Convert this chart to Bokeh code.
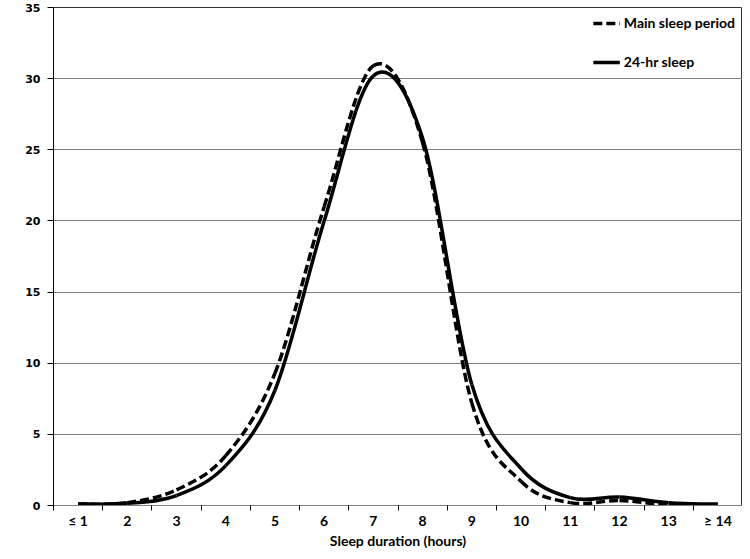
import numpy as np
from bokeh.plotting import figure
from bokeh.models import (ColumnDataSource, Range1d, FixedTicker, Legend, LegendItem, Label)
from bokeh.embed import file_html
from bokeh.resources import INLINE

# ---- data ----
categories = ["≤ 1", "2", "3", "4", "5", "6", "7", "8", "9", "10", "11", "12", "13", "≥ 14"]
main_sleep = [0.1, 0.2, 1.1, 3.5, 9.3, 21.0, 30.9, 25.5, 7.2, 1.7, 0.2, 0.35, 0.05, 0.05]
sleep_24hr = [0.1, 0.15, 0.7, 2.8, 8.1, 20.0, 30.2, 25.8, 8.5, 2.6, 0.55, 0.6, 0.2, 0.1]
y_ticks = [0, 5, 10, 15, 20, 25, 30, 35]

xpos = np.arange(1, len(categories) + 1, dtype=float)


def smooth_segments(x, y):
    """Bezier segments through the data points (Excel-like smoothed line)."""
    x = np.asarray(x, float)
    y = np.asarray(y, float)
    n = len(x)
    d = dict(x0=[], y0=[], x1=[], y1=[], cx0=[], cy0=[], cx1=[], cy1=[])
    for i in range(n - 1):
        i0 = max(i - 1, 0)
        i3 = min(i + 2, n - 1)
        d["x0"].append(x[i]); d["y0"].append(y[i])
        d["x1"].append(x[i + 1]); d["y1"].append(y[i + 1])
        d["cx0"].append(x[i] + (x[i + 1] - x[i0]) / 6.0)
        d["cy0"].append(y[i] + (y[i + 1] - y[i0]) / 6.0)
        d["cx1"].append(x[i + 1] - (x[i3] - x[i]) / 6.0)
        d["cy1"].append(y[i + 1] - (y[i3] - y[i]) / 6.0)
    return ColumnDataSource(d)


p = figure(width=742, height=551, output_backend="svg", toolbar_location=None,
           x_range=Range1d(0.5, len(categories) + 0.5), y_range=Range1d(0, 35),
           min_border_left=53, min_border_right=0, min_border_top=7, min_border_bottom=0)

p.background_fill_color = "white"
p.border_fill_color = "white"
p.outline_line_color = "#333333"
p.outline_line_width = 1

# grid
p.xgrid.grid_line_color = None
p.ygrid.grid_line_color = "#7f7f7f"
p.ygrid.grid_line_width = 1
p.ygrid.ticker = FixedTicker(ticks=y_ticks)

# y axis
p.yaxis.ticker = FixedTicker(ticks=y_ticks)
p.yaxis.axis_line_color = "black"
p.yaxis.major_tick_out = 6
p.yaxis.major_tick_in = 0
p.yaxis.minor_tick_line_color = None
p.yaxis.major_label_text_font = "DejaVu Sans"
p.yaxis.major_label_text_font_style = "bold"
p.yaxis.major_label_text_font_size = "11px"
p.yaxis.major_label_text_color = "black"
p.yaxis.major_label_standoff = 7

# x axis
p.xaxis.ticker = FixedTicker(ticks=list(xpos), minor_ticks=list(np.arange(0.5, len(categories) + 1, 1.0)))
p.xaxis.major_label_overrides = {float(xv): lab for xv, lab in zip(xpos, categories)}
p.xaxis.major_label_overrides.update({int(xv): lab for xv, lab in zip(xpos, categories)})
p.xaxis.axis_line_color = "#7f7f7f"
p.xaxis.major_tick_line_color = None
p.xaxis.major_tick_out = 0
p.xaxis.major_tick_in = 0
p.xaxis.minor_tick_line_color = "black"
p.xaxis.minor_tick_out = 5
p.xaxis.minor_tick_in = 0
p.xaxis.major_label_text_font = "Lato"
p.xaxis.major_label_text_font_style = "bold"
p.xaxis.major_label_text_font_size = "14px"
p.xaxis.major_label_text_color = "black"
p.xaxis.major_label_standoff = 1
p.xaxis.axis_label = "Sleep duration (hours)"
p.xaxis.axis_label_text_font = "Lato"
p.xaxis.axis_label_text_font_style = "bold"
p.xaxis.axis_label_text_font_size = "14px"
p.xaxis.axis_label_text_color = "black"
p.xaxis.axis_label_standoff = 0

# "%" label
p.add_layout(Label(x=0.5, y=17.5, x_offset=-38, text="%", text_font="DejaVu Sans",
                   text_font_style="bold", text_font_size="11px", text_color="black",
                   text_align="center", text_baseline="middle"))

# curves
src_main = smooth_segments(xpos, main_sleep)
src_24 = smooth_segments(xpos, sleep_24hr)
p.bezier(x0="x0", y0="y0", x1="x1", y1="y1", cx0="cx0", cy0="cy0", cx1="cx1", cy1="cy1",
         source=src_24, line_color="black", line_width=3.5)
p.bezier(x0="x0", y0="y0", x1="x1", y1="y1", cx0="cx0", cy0="cy0", cx1="cx1", cy1="cy1",
         source=src_main, line_color="black", line_width=3.5, line_dash="9 4")

# legend proxies (no visible data)
leg_main = p.line(x=[np.nan], y=[np.nan], line_color="black", line_width=3.5, line_dash="9 4")
leg_24 = p.line(x=[np.nan], y=[np.nan], line_color="black", line_width=3.5)

legend = Legend(items=[LegendItem(label="Main sleep period", renderers=[leg_main], index=0),
                       LegendItem(label="24-hr sleep", renderers=[leg_24], index=0)],
                location="top_right", border_line_color=None, background_fill_alpha=0,
                padding=0, margin=7, spacing=22, glyph_width=27, glyph_height=16,
                label_height=16, label_standoff=4,
                label_text_font="Lato", label_text_font_style="bold",
                label_text_font_size="14px", label_text_color="black")
p.add_layout(legend)

open("out.html", "w").write(file_html(p, INLINE))
